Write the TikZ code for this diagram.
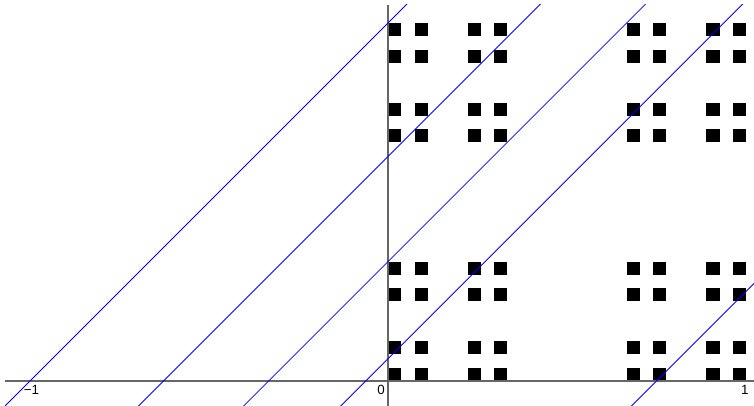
\documentclass[tikz,border=0pt]{standalone}
\usepackage{fontspec}
\setmainfont{Liberation Sans}
\tikzset{
	axisline/.style={line width=0.8pt, color=black!60},
	diagline/.style={line width=0.6pt, color=blue},
	ticklabel/.style={inner sep=0pt, font=\fontsize{10}{11}\selectfont}
}
\begin{document}
\begin{tikzpicture}[x=268.5pt, y=268.5pt]
		%%%%% START %%%%%
		\useasboundingbox (-1.0838, -0.0698) rectangle (1.0223, 1.0642);
		
		% cantor dust, third step
		\foreach \i in {0,2,6,8,18,20,24,26}
			\foreach \j in {0,2,6,8,18,20,24,26}
				\fill[black] (\i/27, \j/27) rectangle ++(1/27, 1/27);
		
		\draw[axisline] (-1.0698, 0) -- (1.0223, 0);
		\draw[axisline] (0, -0.0698) -- (0, 1.0503);
		
		\node[ticklabel] (lm) at (-0.996, -0.026) {−1};
		\node[ticklabel] (lz) at (-0.0196, -0.026) {0};
		\node[ticklabel] (lo) at (0.997, -0.026) {1};
		
		\begin{scope}
			\clip (-1.0698, -0.0698) rectangle (1.0223, 1.0503);
			\draw[diagline] (-1.2, -0.2) -- (0.2, 1.2);
			\draw[diagline] (-1.2, -0.573) -- (0.6, 1.227);
			\draw[diagline] (-1.2, -0.8667) -- (0.9, 1.2333);
			\draw[diagline] (-0.2, -0.1377) -- (1.2, 1.2623);
			\draw[diagline] (0.6, -0.15) -- (1.2, 0.45);
		\end{scope}
		
		%%%%% END %%%%%
\end{tikzpicture}
\end{document}
